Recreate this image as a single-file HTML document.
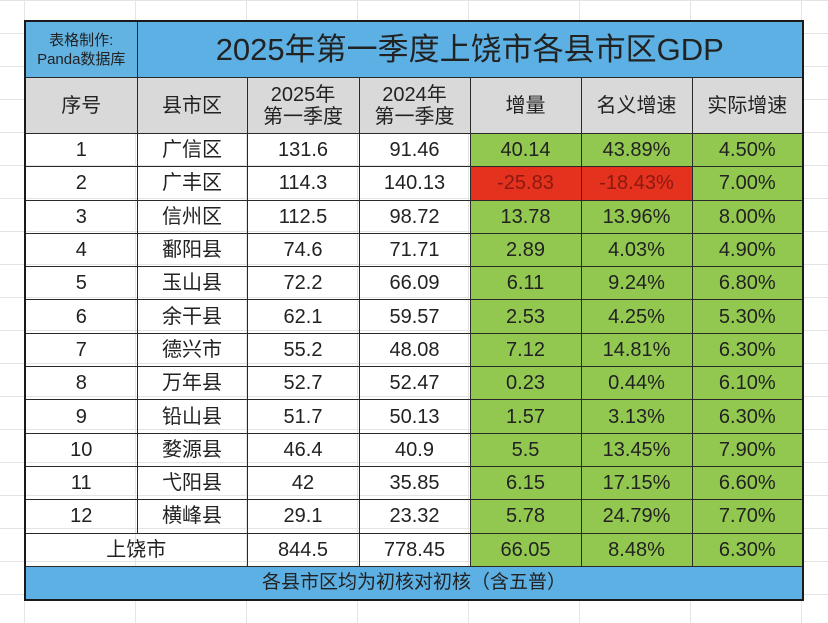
<!DOCTYPE html>
<html><head><meta charset="utf-8">
<style>
html,body{margin:0;padding:0;width:828px;height:623px;overflow:hidden;background:#fff;
background-image:linear-gradient(#e4e4e4 1px,transparent 1px),linear-gradient(90deg,#e4e4e4 1px,transparent 1px);background-size:111px 33px;background-position:24px 0}
body{font-family:"Liberation Sans","Noto Sans CJK SC",sans-serif;color:#222}
table{position:absolute;left:24px;top:20px;width:778px;border-collapse:collapse;table-layout:fixed;border:2px solid #1a1a1a}
td{border:1px solid #2a2a2a;text-align:center;padding:0;font-size:20px;height:32.3px;line-height:22px;white-space:nowrap;overflow:hidden}
.title td{height:55px;background:#5cb0e3}
.hdr td{height:55px;background:#d9d9d9;font-size:20px}
.g{background:#92c850}
.r{background:#e5321f;color:#8a1a10}
.foot td{background:#5cb0e3;height:32px;font-size:19px}
</style></head><body>
<table>
<colgroup><col style="width:112px"><col style="width:110px"><col style="width:112px"><col style="width:111px"><col style="width:111px"><col style="width:111px"><col style="width:111px"></colgroup>
<tr class="title">
<td style="font-size:15px;line-height:19px;background:#63b3e2">表格制作:<br>Panda数据库</td>
<td colspan="6" style="font-size:31px">2025年第一季度上饶市各县市区GDP</td></tr>
<tr class="hdr">
<td>序号</td>
<td>县市区</td>
<td>2025年<br>第一季度</td>
<td>2024年<br>第一季度</td>
<td>增量</td>
<td>名义增速</td>
<td>实际增速</td></tr>
<tr><td>1</td><td>广信区</td><td>131.6</td><td>91.46</td><td class="g">40.14</td><td class="g">43.89%</td><td class="g">4.50%</td></tr>
<tr><td>2</td><td>广丰区</td><td>114.3</td><td>140.13</td><td class="r">-25.83</td><td class="r">-18.43%</td><td class="g">7.00%</td></tr>
<tr><td>3</td><td>信州区</td><td>112.5</td><td>98.72</td><td class="g">13.78</td><td class="g">13.96%</td><td class="g">8.00%</td></tr>
<tr><td>4</td><td>鄱阳县</td><td>74.6</td><td>71.71</td><td class="g">2.89</td><td class="g">4.03%</td><td class="g">4.90%</td></tr>
<tr><td>5</td><td>玉山县</td><td>72.2</td><td>66.09</td><td class="g">6.11</td><td class="g">9.24%</td><td class="g">6.80%</td></tr>
<tr><td>6</td><td>余干县</td><td>62.1</td><td>59.57</td><td class="g">2.53</td><td class="g">4.25%</td><td class="g">5.30%</td></tr>
<tr><td>7</td><td>德兴市</td><td>55.2</td><td>48.08</td><td class="g">7.12</td><td class="g">14.81%</td><td class="g">6.30%</td></tr>
<tr><td>8</td><td>万年县</td><td>52.7</td><td>52.47</td><td class="g">0.23</td><td class="g">0.44%</td><td class="g">6.10%</td></tr>
<tr><td>9</td><td>铅山县</td><td>51.7</td><td>50.13</td><td class="g">1.57</td><td class="g">3.13%</td><td class="g">6.30%</td></tr>
<tr><td>10</td><td>婺源县</td><td>46.4</td><td>40.9</td><td class="g">5.5</td><td class="g">13.45%</td><td class="g">7.90%</td></tr>
<tr><td>11</td><td>弋阳县</td><td>42</td><td>35.85</td><td class="g">6.15</td><td class="g">17.15%</td><td class="g">6.60%</td></tr>
<tr><td>12</td><td>横峰县</td><td>29.1</td><td>23.32</td><td class="g">5.78</td><td class="g">24.79%</td><td class="g">7.70%</td></tr>
<tr><td colspan="2">上饶市</td><td>844.5</td><td>778.45</td><td class="g">66.05</td><td class="g">8.48%</td><td class="g">6.30%</td></tr>
<tr class="foot"><td colspan="7">各县市区均为初核对初核（含五普）</td></tr>
</table>
</body></html>
